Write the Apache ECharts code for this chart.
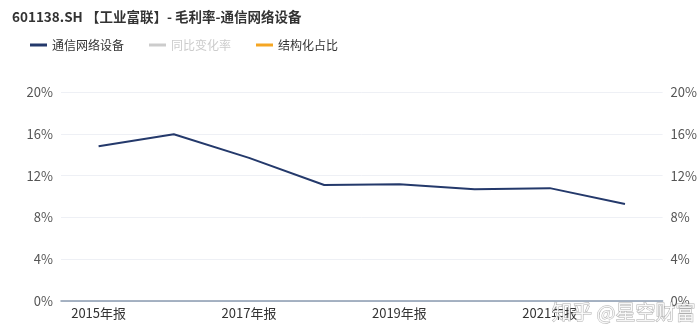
<!DOCTYPE html>
<html><head><meta charset="utf-8">
<script src="https://cdn.jsdelivr.net/npm/echarts@6/dist/echarts.min.js"></script>
<style>html,body{margin:0;padding:0;background:#fff}#c{width:700px;height:325px}</style>
</head><body><div id="c"></div>
<script>
var categories = ['2015年报','2016年报','2017年报','2018年报','2019年报','2020年报','2021年报','2022年报'];
var grossMargin = [14.8, 15.95, 13.7, 11.1, 11.17, 10.69, 10.8, 9.28];
var yoyChange = [];
var structureShare = [];
var yTicks = [0, 4, 8, 12, 16, 20];

var chart = echarts.init(document.getElementById('c'));
var axisLabel = {color:'#555', fontSize:13, fontFamily:'Noto Sans CJK SC', formatter:function(v){return v+'%';}};
chart.setOption({
  animation:false,
  title:{text:'601138.SH 【工业富联】- 毛利率-通信网络设备', left:7, top:5,
    textStyle:{fontSize:13.5, fontWeight:'bold', color:'#333', fontFamily:'Noto Sans CJK SC'}},
  legend:{left:25, top:34, itemWidth:17, itemHeight:3, itemGap:25, icon:'rect',
    textStyle:{fontSize:12, color:'#333', fontFamily:'Noto Sans CJK SC'},
    inactiveColor:'#ccc',
    selected:{'同比变化率':false},
    data:['通信网络设备','同比变化率','结构化占比']},
  grid:{left:61, right:35, top:92, bottom:24},
  xAxis:{type:'category', data:categories, boundaryGap:true,
    axisLine:{lineStyle:{color:'#8a9bb0', width:1.5}}, axisTick:{show:false},
    axisLabel:{interval:1, color:'#333', fontSize:13, fontFamily:'Noto Sans CJK SC', margin:6}},
  yAxis:[
    {type:'value', min:0, max:20, interval:4, axisLabel:axisLabel,
      splitLine:{lineStyle:{color:'#eef0f5'}}, axisLine:{show:false}, axisTick:{show:false}},
    {type:'value', min:0, max:20, interval:4, position:'right', axisLabel:axisLabel,
      splitLine:{show:false}, axisLine:{show:false}, axisTick:{show:false}}
  ],
  series:[
    {name:'通信网络设备', type:'line', data:grossMargin, symbol:'none',
      lineStyle:{color:'#24396b', width:2}, itemStyle:{color:'#24396b'}},
    {name:'同比变化率', type:'line', yAxisIndex:1, data:yoyChange, symbol:'none',
      lineStyle:{color:'#aaa'}, itemStyle:{color:'#aaa'}},
    {name:'结构化占比', type:'line', yAxisIndex:1, data:structureShare, symbol:'none',
      lineStyle:{color:'#f5a623'}, itemStyle:{color:'#f5a623'}}
  ],
  graphic:[{type:'text', right:4, bottom:2, z:100,
    style:{text:'知乎 @星空财富', fontSize:20, fill:'rgba(255,255,255,0.85)',
      stroke:'rgba(120,120,120,0.6)', lineWidth:1, fontFamily:'Noto Sans CJK SC'}}]
});
</script></body></html>
